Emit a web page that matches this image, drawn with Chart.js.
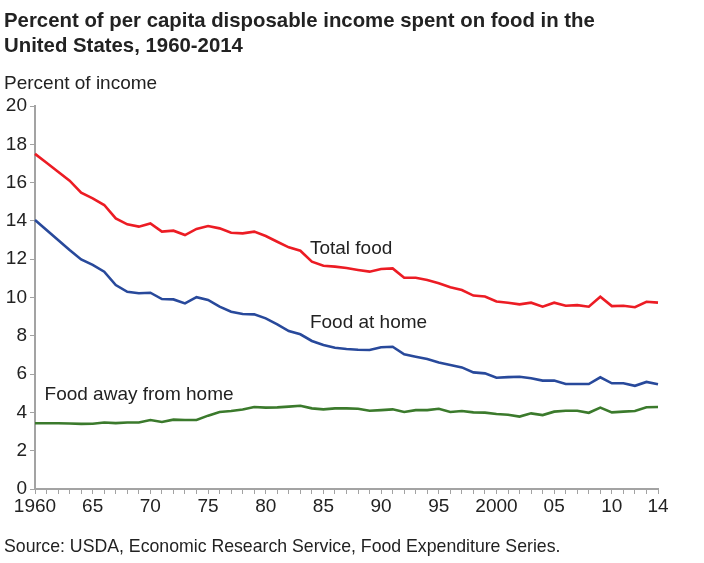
<!DOCTYPE html>
<html>
<head>
<meta charset="utf-8">
<script src="https://cdn.jsdelivr.net/npm/chart.js@4.4.1/dist/chart.umd.min.js"></script>
<style>
  body { margin: 0; background: #fff; }
  #wrap { position: relative; width: 704px; height: 563px; overflow: hidden; font-family: "Liberation Sans", Arial, sans-serif; color: #222; }
  #title { position: absolute; left: 4px; top: 7px; font-weight: bold; font-size: 21px; line-height: 25px; white-space: nowrap; transform: scaleX(0.97); transform-origin: 0 0; }
  #ylab { position: absolute; left: 4px; top: 73px; font-size: 19px; line-height: 19px; }
  #source { position: absolute; left: 4px; top: 537px; font-size: 17.7px; line-height: 18px; }
  canvas { position: absolute; left: 0; top: 0; }
</style>
</head>
<body>
<div id="wrap">
  <canvas id="foodChart" width="704" height="563"></canvas>
  <div id="title">Percent of per capita disposable income spent on food in the<br>United States, 1960-2014</div>
  <div id="ylab">Percent of income</div>
  <div id="source">Source: USDA, Economic Research Service, Food Expenditure Series.</div>
</div>
<script>
// Years on the x axis
const years = [1960, 1961, 1962, 1963, 1964, 1965, 1966, 1967, 1968, 1969,
  1970, 1971, 1972, 1973, 1974, 1975, 1976, 1977, 1978, 1979,
  1980, 1981, 1982, 1983, 1984, 1985, 1986, 1987, 1988, 1989,
  1990, 1991, 1992, 1993, 1994, 1995, 1996, 1997, 1998, 1999,
  2000, 2001, 2002, 2003, 2004, 2005, 2006, 2007, 2008, 2009,
  2010, 2011, 2012, 2013, 2014];

// Percent of income
const totalFood = [17.5, 17.04, 16.57, 16.1, 15.47, 15.18, 14.83, 14.13, 13.82, 13.7,
  13.87, 13.44, 13.49, 13.26, 13.58, 13.73, 13.61, 13.38, 13.35, 13.44,
  13.21, 12.91, 12.62, 12.44, 11.87, 11.66, 11.61, 11.54, 11.44, 11.35,
  11.49, 11.52, 11.03, 11.03, 10.91, 10.74, 10.53, 10.39, 10.1, 10.05,
  9.79, 9.73, 9.64, 9.73, 9.52, 9.73, 9.57, 9.6, 9.52, 10.04,
  9.55, 9.57, 9.49, 9.78, 9.73];
const foodAtHome = [14.05, 13.52, 13.0, 12.48, 11.99, 11.7, 11.35, 10.65, 10.3, 10.22,
  10.25, 9.92, 9.9, 9.69, 10.02, 9.87, 9.52, 9.26, 9.14, 9.12,
  8.91, 8.6, 8.25, 8.08, 7.73, 7.52, 7.38, 7.31, 7.27, 7.26,
  7.4, 7.43, 7.03, 6.91, 6.79, 6.6, 6.48, 6.35, 6.09, 6.04,
  5.81, 5.84, 5.86, 5.78, 5.66, 5.66, 5.48, 5.48, 5.48, 5.83,
  5.52, 5.52, 5.39, 5.59, 5.47];
const foodAway = [3.43, 3.43, 3.43, 3.42, 3.4, 3.41, 3.47, 3.44, 3.47, 3.47,
  3.6, 3.5, 3.62, 3.6, 3.6, 3.83, 4.02, 4.07, 4.15, 4.28,
  4.25, 4.26, 4.3, 4.35, 4.21, 4.16, 4.21, 4.21, 4.19, 4.09,
  4.12, 4.16, 4.02, 4.12, 4.12, 4.19, 4.02, 4.07, 4.0, 3.99,
  3.92, 3.88, 3.78, 3.95, 3.86, 4.04, 4.09, 4.09, 3.98, 4.25,
  4.0, 4.04, 4.07, 4.27, 4.28];

// Which years get a label under the axis, and what it says
const labelYears = [1960, 1965, 1970, 1975, 1980, 1985, 1990, 1995, 2000, 2005, 2010, 2014];
const labelTexts = ['1960', '65', '70', '75', '80', '85', '90', '95', '2000', '05', '10', '14'];

// Series names written next to the lines
const seriesNames = ['Total food', 'Food at home', 'Food away from home'];
const namePos = [[1984, 12.53], [1984, 8.67], [1961, 4.91]];

const axisGray = '#a3a3a3';
const fontFamily = '"Liberation Sans", Arial, sans-serif';

// draws the series names inside the plot
const lineLabels = {
  id: 'lineLabels',
  afterDatasetsDraw(chart) {
    const ctx = chart.ctx;
    const x = chart.scales.x, y = chart.scales.y;
    ctx.save();
    ctx.font = '19px ' + fontFamily;
    ctx.fillStyle = '#222';
    ctx.textBaseline = 'middle';
    ctx.textAlign = 'left';
    seriesNames.forEach((name, i) => {
      const px = x.getPixelForValue(years.indexOf(namePos[i][0]));
      ctx.fillText(name, px - 2, y.getPixelForValue(namePos[i][1]));
    });
    ctx.restore();
  }
};

const ctx = document.getElementById('foodChart').getContext('2d');
const foodChart = new Chart(ctx, {
  type: 'line',
  data: {
    labels: years.map(String),
    datasets: [
      { label: 'Total food', data: totalFood, borderColor: '#ec1c24' },
      { label: 'Food at home', data: foodAtHome, borderColor: '#28499b' },
      { label: 'Food away from home', data: foodAway, borderColor: '#3b7a2c' }
    ]
  },
  options: {
    responsive: false,
    animation: false,
    devicePixelRatio: 1,
    elements: {
      line: { borderWidth: 2.6, tension: 0, fill: false },
      point: { radius: 0 }
    },
    layout: { padding: { top: 106, right: 46, bottom: 44, left: 0 } },
    plugins: { legend: { display: false }, tooltip: { enabled: false } },
    scales: {
      x: {
        offset: false,
        afterFit: s => { s.height = 30; },
        border: { color: axisGray, width: 2 },
        grid: { drawOnChartArea: false, drawTicks: true, tickLength: 5, color: axisGray, offset: false },
        ticks: {
          autoSkip: false, maxRotation: 0, padding: 1,
          color: '#222', font: { family: fontFamily, size: 19 },
          callback: (v, i) => {
            const k = labelYears.indexOf(years[i]);
            return k >= 0 ? labelTexts[k] : '';
          }
        }
      },
      y: {
        min: 0, max: 20,
        afterFit: s => { s.width = 35; },
        border: { color: axisGray, width: 2 },
        grid: { drawOnChartArea: false, drawTicks: true, tickLength: 5, color: axisGray },
        ticks: {
          stepSize: 2, padding: 3,
          color: '#222', font: { family: fontFamily, size: 19 }
        }
      }
    }
  },
  plugins: [lineLabels]
});
</script>
</body>
</html>
